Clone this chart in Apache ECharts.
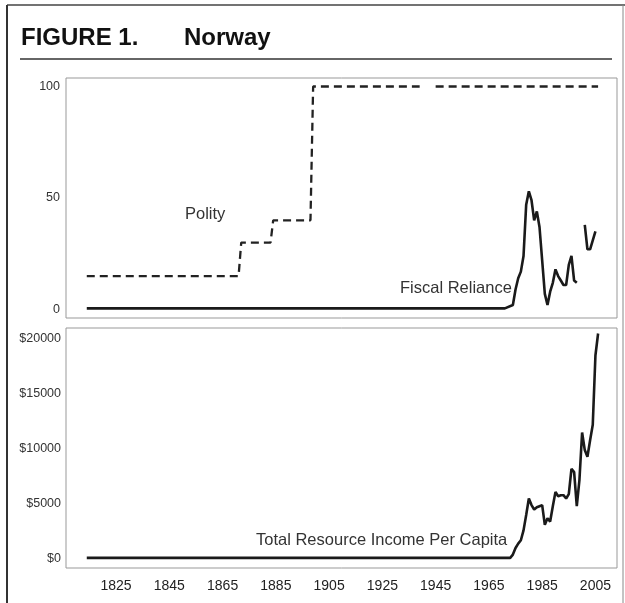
<!DOCTYPE html>
<html>
<head>
<meta charset="utf-8">
<script src="https://cdn.jsdelivr.net/npm/echarts@6/dist/echarts.min.js"></script>
<style>
  html, body { margin: 0; padding: 0; background: #fff; }
  #chart { width: 625px; height: 603px; }
</style>
</head>
<body>
<div id="chart"></div>
<script>
  // tick labels
  const yearTicks = [1825, 1845, 1865, 1885, 1905, 1925, 1945, 1965, 1985, 2005];
  const polityTicks = [0, 50, 100];
  const incomeTicks = [0, 5000, 10000, 15000, 20000];

  // Polity (step changes, gap during occupation)
  const polityYears = [1814, 1871, 1872, 1883, 1884, 1898, 1899, 1939, 1940, 1945, 2006];
  const polityValues = [15, 15, 30, 30, 40, 40, 100, 100, null, 100, 100];

  // Fiscal reliance
  const fiscalYears = [1814, 1971, 1974, 1975, 1976, 1977, 1978, 1979, 1980, 1981, 1982, 1983,
    1984, 1985, 1986, 1987, 1988, 1989, 1990, 1991, 1992, 1993, 1994, 1995, 1996, 1997, 1998,
    1999, 2001, 2002, 2003, 2004, 2005];
  const fiscalValues = [0.5, 0.5, 2, 9, 14, 17, 24, 47, 53, 49, 40, 44,
    37, 22, 7, 2, 8, 12, 18, 15, 13, 11, 11, 20, 24, 13, 12,
    null, 38, 27, 27, 31, 35];

  // Total resource income per capita
  const incomeYears = [1814, 1973, 1974, 1975, 1976, 1977, 1978, 1979, 1980, 1981, 1982, 1983,
    1984, 1985, 1986, 1987, 1988, 1989, 1990, 1991, 1992, 1993, 1994, 1995, 1996, 1997, 1998,
    1999, 2000, 2001, 2002, 2003, 2004, 2005, 2006];
  const incomeValues = [100, 100, 400, 1000, 1400, 1700, 2600, 4000, 5500, 4900, 4500, 4700,
    4800, 4900, 3100, 3700, 3400, 4800, 6100, 5700, 5800, 5800, 5500, 5900, 8200, 7900, 4800,
    7200, 11500, 9900, 9300, 10800, 12200, 18500, 20500];

  const FONT = '"Liberation Sans", Arial, sans-serif';

  function pairs(xs, ys) {
    return xs.map((x, i) => [x, ys[i] == null ? '-' : ys[i]]);
  }

  const xAxisBase = {
    type: 'value',
    min: 1806.2,
    max: 2013.1,
    axisLine: { show: false },
    axisTick: { show: false },
    splitLine: { show: false }
  };

  const chart = echarts.init(document.getElementById('chart'));
  chart.setOption({
    animation: false,
    grid: [
      { left: 66, right: 8, top: 78, height: 240, show: true, borderColor: '#999', borderWidth: 1 },
      { left: 66, right: 8, top: 328, height: 240, show: true, borderColor: '#999', borderWidth: 1 }
    ],
    xAxis: [
      { ...xAxisBase, gridIndex: 0, axisLabel: { show: false } },
      {
        ...xAxisBase, gridIndex: 1,
        axisLabel: {
          customValues: yearTicks,
          formatter: v => String(v),
          color: '#222', fontSize: 14, fontFamily: FONT, margin: 11
        }
      }
    ],
    yAxis: [
      {
        type: 'value', gridIndex: 0, min: -3.8, max: 103.8,
        axisLine: { show: false }, axisTick: { show: false }, splitLine: { show: false },
        axisLabel: { customValues: polityTicks, color: '#333', fontSize: 12.5, fontFamily: FONT, margin: 6 }
      },
      {
        type: 'value', gridIndex: 1, min: -820, max: 21000,
        axisLine: { show: false }, axisTick: { show: false }, splitLine: { show: false },
        axisLabel: {
          customValues: incomeTicks, color: '#333', fontSize: 12.5, fontFamily: FONT, margin: 5,
          formatter: v => '$' + v
        }
      }
    ],
    series: [
      {
        name: 'Polity', type: 'line', xAxisIndex: 0, yAxisIndex: 0,
        data: pairs(polityYears, polityValues), symbol: 'none',
        lineStyle: { color: '#222', width: 2.3, type: [8, 5] }
      },
      {
        name: 'Fiscal Reliance', type: 'line', xAxisIndex: 0, yAxisIndex: 0,
        data: pairs(fiscalYears, fiscalValues), symbol: 'none',
        lineStyle: { color: '#1a1a1a', width: 2.6 }
      },
      {
        name: 'Total Resource Income Per Capita', type: 'line', xAxisIndex: 1, yAxisIndex: 1,
        data: pairs(incomeYears, incomeValues), symbol: 'none',
        lineStyle: { color: '#1a1a1a', width: 2.6 }
      }
    ],
    graphic: [
      // outer frame
      { type: 'line', shape: { x1: 7, y1: 5, x2: 625, y2: 5 }, style: { stroke: '#444', lineWidth: 1.5 } },
      { type: 'line', shape: { x1: 7, y1: 5, x2: 7, y2: 603 }, style: { stroke: '#333', lineWidth: 2 } },
      { type: 'line', shape: { x1: 623, y1: 5, x2: 623, y2: 603 }, style: { stroke: '#888', lineWidth: 1 } },
      // title and rule
      { type: 'text', left: 21, top: 26, style: { text: 'FIGURE 1.', font: 'bold 24px ' + FONT, fill: '#111' } },
      { type: 'text', left: 184, top: 26, style: { text: 'Norway', font: 'bold 24px ' + FONT, fill: '#111' } },
      { type: 'line', shape: { x1: 20, y1: 59, x2: 612, y2: 59 }, style: { stroke: '#333', lineWidth: 1.5 } },
      // annotations
      { type: 'text', x: 185, y: 214, style: { text: 'Polity', font: '16.5px ' + FONT, fill: '#333', verticalAlign: 'middle' } },
      { type: 'text', x: 400, y: 288, style: { text: 'Fiscal Reliance', font: '16.5px ' + FONT, fill: '#333', verticalAlign: 'middle' } },
      { type: 'text', x: 256, y: 540, style: { text: 'Total Resource Income Per Capita', font: '16.5px ' + FONT, fill: '#333', verticalAlign: 'middle' } }
    ]
  });
</script>
</body>
</html>
